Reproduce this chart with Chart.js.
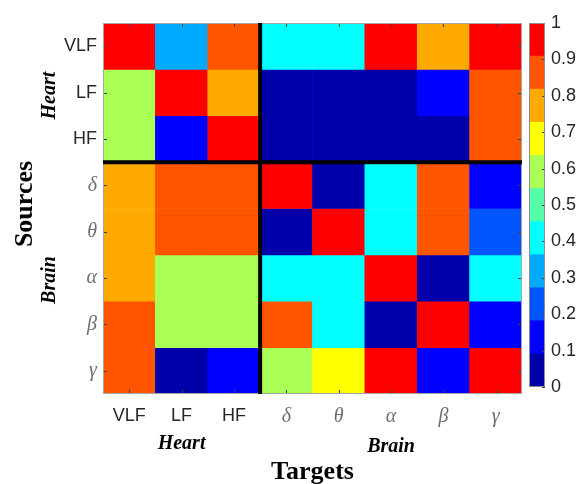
<!DOCTYPE html>
<html>
<head>
<meta charset="utf-8">
<title>Heart-brain coupling</title>
<script src="https://cdn.jsdelivr.net/npm/chart.js@4.4.0/dist/chart.umd.min.js"></script>
<style>
  body { margin: 0; background: #fff; }
  #wrap { position: relative; width: 581px; height: 484px; }
  #wrap canvas { position: absolute; left: 0; top: 0; }
</style>
</head>
<body>
<div id="wrap">
  <canvas id="heat" width="581" height="484"></canvas>
  <canvas id="cbar" width="581" height="484"></canvas>
</div>
<script>
    // Rows = sources, columns = targets
    const sources = ['VLF', 'LF', 'HF', 'δ', 'θ', 'α', 'β', 'γ'];
    const targets = ['VLF', 'LF', 'HF', 'δ', 'θ', 'α', 'β', 'γ'];
    const heartCount = 3;

    const rowVLF   = [1.00, 0.32, 0.86, 0.41, 0.41, 0.95, 0.78, 0.95];
    const rowLF    = [0.62, 1.00, 0.78, 0.05, 0.05, 0.05, 0.14, 0.86];
    const rowHF    = [0.62, 0.14, 1.00, 0.05, 0.05, 0.05, 0.05, 0.86];
    const rowDelta = [0.78, 0.86, 0.86, 1.00, 0.05, 0.41, 0.86, 0.14];
    const rowTheta = [0.78, 0.86, 0.86, 0.05, 1.00, 0.41, 0.86, 0.23];
    const rowAlpha = [0.78, 0.62, 0.62, 0.41, 0.41, 1.00, 0.05, 0.41];
    const rowBeta  = [0.86, 0.62, 0.62, 0.86, 0.41, 0.05, 1.00, 0.14];
    const rowGamma = [0.86, 0.05, 0.14, 0.62, 0.70, 0.95, 0.14, 1.00];
    const rows = [rowVLF, rowLF, rowHF, rowDelta, rowTheta, rowAlpha, rowBeta, rowGamma];

    const cbarTicks = [0, 0.1, 0.2, 0.3, 0.4, 0.5, 0.6, 0.7, 0.8, 0.9, 1];

    // jet(11)
    const jet = [
      'rgb(0,0,170)', 'rgb(0,0,255)', 'rgb(0,85,255)', 'rgb(0,170,255)',
      'rgb(0,255,255)', 'rgb(85,255,170)', 'rgb(170,255,85)', 'rgb(255,255,0)',
      'rgb(255,170,0)', 'rgb(255,85,0)', 'rgb(255,0,0)'
    ];
    function colorFor(v) {
      return jet[Math.min(jet.length - 1, Math.floor(v * jet.length))];
    }

    const SANS = '"Liberation Sans", Arial, sans-serif';
    const SERIF = '"Liberation Serif", "Times New Roman", serif';
    const latinFont = { family: SANS, size: 18 };
    const greekFont = { family: SERIF, size: 20, style: 'italic' };
    const tickFont = (c) => (c.index >= heartCount ? greekFont : latinFont);
    const tickColor = (c) => (c.index >= heartCount ? '#6e6e6e' : '#262626');

    // box, inward tick marks, block separators and group titles
    const frame = {
      id: 'frame',
      afterDatasetsDraw(chart) {
        const { ctx, chartArea: a, scales: { x, y } } = chart;
        ctx.save();
        ctx.strokeStyle = '#404040';
        ctx.lineWidth = 1;
        ctx.beginPath();
        targets.forEach((_, i) => {
          const px = Math.round(x.getPixelForValue(i)) + 0.5;
          ctx.moveTo(px, a.top); ctx.lineTo(px, a.top + 4);
          ctx.moveTo(px, a.bottom); ctx.lineTo(px, a.bottom - 4);
        });
        sources.forEach((_, i) => {
          const py = Math.round(y.getPixelForValue(i + 0.5)) + 0.5;
          ctx.moveTo(a.left, py); ctx.lineTo(a.left + 4, py);
          ctx.moveTo(a.right, py); ctx.lineTo(a.right - 4, py);
        });
        ctx.stroke();

        ctx.strokeStyle = '#a6a6a6';
        ctx.strokeRect(a.left + 0.5, a.top + 0.5, a.width - 1, a.height - 1);

        const sx = x.getPixelForValue(heartCount - 0.5);
        const sy = y.getPixelForValue(heartCount);
        ctx.strokeStyle = '#000';
        ctx.lineWidth = 4;
        ctx.beginPath();
        ctx.moveTo(sx, a.top); ctx.lineTo(sx, a.bottom);
        ctx.moveTo(a.left, sy); ctx.lineTo(a.right, sy);
        ctx.stroke();
        ctx.restore();
      },
      afterDraw(chart) {
        const { ctx, chartArea: a, scales: { x, y } } = chart;
        const n = sources.length;
        ctx.save();
        ctx.fillStyle = '#000';
        ctx.textAlign = 'center';
        ctx.textBaseline = 'alphabetic';

        ctx.font = 'italic bold 20px ' + SERIF;
        ctx.fillText('Heart', x.getPixelForValue((heartCount - 1) / 2), 449);
        ctx.fillText('Brain', x.getPixelForValue((heartCount + n - 1) / 2), 452);

        const vertical = (text, px, py) => {
          ctx.save();
          ctx.translate(px, py);
          ctx.rotate(-Math.PI / 2);
          ctx.fillText(text, 0, 0);
          ctx.restore();
        };
        vertical('Heart', 55, y.getPixelForValue(heartCount / 2) + 3);
        vertical('Brain', 55, y.getPixelForValue((heartCount + n) / 2) + 2);

        ctx.font = 'bold 26px ' + SERIF;
        ctx.fillText('Targets', (a.left + a.right) / 2, 479);
        vertical('Sources', 32, 204);
        ctx.restore();
      }
    };

    new Chart(document.getElementById('heat'), {
      type: 'bar',
      data: {
        labels: targets,
        datasets: rows.map((vals, r) => ({
          label: sources[r],
          data: targets.map(() => [r, r + 1]),
          backgroundColor: vals.map(colorFor),
          borderWidth: 0,
          barPercentage: 1,
          categoryPercentage: 1
        }))
      },
      options: {
        responsive: false,
        animation: false,
        layout: { padding: { top: 23, right: 59, left: 0, bottom: 0 } },
        plugins: { legend: { display: false }, tooltip: { enabled: false } },
        scales: {
          x: {
            stacked: true,
            grid: { display: false, drawTicks: false },
            border: { display: false },
            ticks: { padding: 11, maxRotation: 0, autoSkip: false, font: tickFont, color: tickColor },
            afterFit: (s) => { s.height = 90; }
          },
          y: {
            type: 'linear',
            min: 0,
            max: sources.length,
            reverse: true,
            stacked: false,
            grid: { display: false, drawTicks: false },
            border: { display: false },
            afterBuildTicks: (s) => { s.ticks = sources.map((_, i) => ({ value: i + 0.5 })); },
            ticks: {
              padding: 6,
              autoSkip: false,
              font: tickFont,
              color: tickColor,
              callback: (v) => sources[Math.floor(v)]
            },
            afterFit: (s) => { s.width = 103; }
          }
        }
      },
      plugins: [frame]
    });

    // colour bar
    const cbarFrame = {
      id: 'cbarFrame',
      afterDatasetsDraw(chart) {
        const { ctx, chartArea: a, scales: { y } } = chart;
        ctx.save();
        ctx.strokeStyle = '#404040';
        ctx.lineWidth = 1;
        ctx.beginPath();
        cbarTicks.forEach((t) => {
          const py = Math.round(y.getPixelForValue(t)) + 0.5;
          ctx.moveTo(a.right, py); ctx.lineTo(a.right - 3, py);
        });
        ctx.stroke();
        ctx.strokeStyle = '#8c8c8c';
        ctx.strokeRect(a.left + 0.5, a.top + 0.5, a.width - 1, a.height - 1);
        ctx.restore();
      }
    };

    new Chart(document.getElementById('cbar'), {
      type: 'bar',
      data: {
        labels: [''],
        datasets: jet.map((c, k) => ({
          data: [[k / jet.length, (k + 1) / jet.length]],
          backgroundColor: c,
          borderWidth: 0,
          barPercentage: 1,
          categoryPercentage: 1
        }))
      },
      options: {
        responsive: false,
        animation: false,
        layout: { padding: { top: 23, right: 0, left: 529, bottom: 97 } },
        plugins: { legend: { display: false }, tooltip: { enabled: false } },
        scales: {
          x: { display: false, stacked: true },
          y: {
            position: 'right',
            min: 0,
            max: 1,
            stacked: false,
            grid: { display: false, drawTicks: false },
            border: { display: false },
            afterBuildTicks: (s) => { s.ticks = cbarTicks.map((v) => ({ value: v })); },
            ticks: { padding: 6, font: latinFont, color: '#262626', callback: (v) => String(v) },
            afterFit: (s) => { s.width = 36; }
          }
        }
      },
      plugins: [cbarFrame]
    });
</script>
</body>
</html>
